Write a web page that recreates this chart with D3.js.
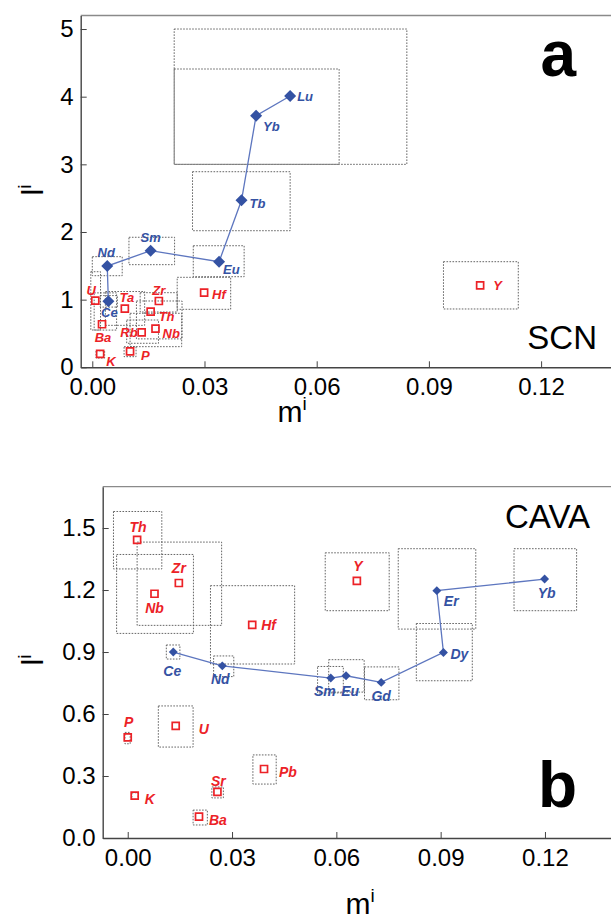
<!DOCTYPE html>
<html>
<head>
<meta charset="utf-8">
<script src="https://cdn.jsdelivr.net/npm/d3@7"></script>
<style>
  html, body { margin: 0; padding: 0; background: #fff; }
  svg { display: block; }
</style>
</head>
<body>
<svg id="chart" width="611" height="916"></svg>
<script>
// ---------- Panel a (SCN) ----------
const aReeNames = ["Ce", "Nd", "Sm", "Eu", "Tb", "Yb", "Lu"];
const aReeM     = [0.0043, 0.0040, 0.0156, 0.0339, 0.0399, 0.0438, 0.0529];
const aReeL     = [0.976, 1.497, 1.724, 1.561, 2.468, 3.719, 4.010];
const aReeMLo   = [0.0021, 0.0000, 0.0098, 0.0270, 0.0268, 0.0219, 0.0219];
const aReeMHi   = [0.0067, 0.0080, 0.0220, 0.0406, 0.0529, 0.0660, 0.0841];
const aReeLLo   = [0.890, 1.354, 1.517, 1.339, 2.019, 3.000, 3.000];
const aReeLHi   = [1.060, 1.635, 1.922, 1.797, 2.891, 4.409, 5.000];

const aOthNames = ["U", "Ba", "Ta", "Zr", "Th", "Nb", "Rb", "P", "K", "Hf", "Y"];
const aOthM     = [0.0008, 0.0026, 0.0087, 0.0178, 0.0156, 0.0169, 0.0132, 0.0101, 0.0021, 0.0299, 0.1037];
const aOthL     = [0.985, 0.636, 0.866, 0.980, 0.822, 0.571, 0.517, 0.236, 0.197, 1.103, 1.212];
const aOthMLo   = [-0.0004, 0.0005, 0.0035, 0.0128, 0.0118, 0.0101, 0.0092, 0.0085, 0.0010, 0.0227, 0.0939];
const aOthMHi   = [0.0022, 0.0065, 0.0140, 0.0227, 0.0240, 0.0239, 0.0177, 0.0117, 0.0033, 0.0370, 0.1139];
const aOthLLo   = [0.551, 0.550, 0.620, 0.817, 0.420, 0.305, 0.355, 0.157, 0.137, 0.857, 0.862];
const aOthLHi   = [1.413, 1.100, 1.120, 1.103, 0.980, 0.798, 0.699, 0.305, 0.245, 1.330, 1.561];

const aXTicks = [0, 0.03, 0.06, 0.09, 0.12];
const aYTicks = [0, 1, 2, 3, 4, 5];

// ---------- Panel b (CAVA) ----------
const bReeNames = ["Ce", "Nd", "Sm", "Eu", "Gd", "Dy", "Er", "Yb"];
const bReeM     = [0.0131, 0.0272, 0.0584, 0.0628, 0.0729, 0.0908, 0.0889, 0.1199];
const bReeL     = [0.900, 0.833, 0.774, 0.785, 0.753, 0.898, 1.197, 1.253];
const bReeMLo   = [0.0111, 0.0247, 0.0546, 0.0578, 0.0681, 0.0830, 0.0778, 0.1111];
const bReeMHi   = [0.0150, 0.0305, 0.0620, 0.0680, 0.0780, 0.0991, 0.1001, 0.1291];
const bReeLLo   = [0.866, 0.781, 0.702, 0.706, 0.669, 0.761, 1.011, 1.100];
const bReeLHi   = [0.934, 0.881, 0.830, 0.863, 0.828, 1.038, 1.400, 1.400];

const bOthNames = ["Th", "Zr", "Nb", "Hf", "Y", "P", "U", "K", "Sr", "Ba", "Pb"];
const bOthM     = [0.0027, 0.0147, 0.0077, 0.0358, 0.0659, 0.0000, 0.0138, 0.0020, 0.0258, 0.0205, 0.0392];
const bOthL     = [1.443, 1.234, 1.182, 1.031, 1.244, 0.487, 0.543, 0.205, 0.223, 0.103, 0.334];
const bOthMLo   = [-0.0041, 0.0027, -0.0032, 0.0238, 0.0568, -0.0008, 0.0088, 0.0012, 0.0242, 0.0188, 0.0360];
const bOthMHi   = [0.0098, 0.0270, 0.0189, 0.0480, 0.0752, 0.0007, 0.0188, 0.0030, 0.0275, 0.0229, 0.0427];
const bOthLLo   = [1.302, 1.029, 0.990, 0.842, 1.100, 0.456, 0.440, 0.187, 0.194, 0.063, 0.261];
const bOthLHi   = [1.580, 1.432, 1.372, 1.221, 1.380, 0.511, 0.639, 0.219, 0.247, 0.135, 0.402];

const bXTicks = [0, 0.03, 0.06, 0.09, 0.12];
const bYTicks = [0, 0.3, 0.6, 0.9, 1.2, 1.5];

// Label placement: [dx, dy, anchor] relative to the marker centre
const aLabelPos = {
  Lu: [7, 5, "start"], Yb: [7, 15, "start"], Tb: [8, 8, "start"], Eu: [4, 12, "start"],
  Sm: [0, -9, "middle"], Nd: [-1, -9, "middle"], Ce: [1, 16, "middle"],
  U: [-4, -6, "middle"], Ta: [2, -7, "middle"], Zr: [0, -6, "middle"], Th: [8, 9, "start"],
  Nb: [7, 9, "start"], Rb: [-4, 5, "end"], Ba: [1, 18, "middle"], K: [6, 12, "start"],
  P: [11, 9, "start"], Hf: [8, 6, "start"], Y: [13, 5, "start"]
};
const bLabelPos = {
  Ce: [-1, 24, "middle"], Nd: [-2, 18, "middle"], Sm: [-6, 18, "middle"], Eu: [4, 20, "middle"],
  Gd: [0, 19, "middle"], Dy: [7, 7, "start"], Er: [7, 15, "start"], Yb: [2, 19, "middle"],
  Th: [1, -8, "middle"], Zr: [0, -10, "middle"], Nb: [0, 19, "middle"], Hf: [9, 5, "start"],
  Y: [1, -10, "middle"], P: [1, -10, "middle"], U: [23, 8, "start"], K: [10, 8, "start"],
  Sr: [1, -6, "middle"], Ba: [10, 8, "start"], Pb: [15, 8, "start"]
};

const FONT = "'Liberation Sans', Arial, Helvetica, sans-serif";
const RED = "#ec2227";
const BLUE = "#3452a3";
const LINE_BLUE = "#5d76bf";
const svg = d3.select("#chart");

function zip(names, m, l, mlo, mhi, llo, lhi) {
  return names.map((n, i) => ({ name: n, m: m[i], l: l[i], mlo: mlo[i], mhi: mhi[i], llo: llo[i], lhi: lhi[i] }));
}

function drawPanel(cfg) {
  const g = svg.append("g");
  const x = d3.scaleLinear().domain(cfg.xDomain).range(cfg.xRange);
  const y = d3.scaleLinear().domain(cfg.yDomain).range(cfg.yRange);

  const ree = zip(...cfg.ree);
  const oth = zip(...cfg.oth);

  // top frame line
  g.append("line")
    .attr("x1", cfg.xRange[0]).attr("x2", 611)
    .attr("y1", y(cfg.yDomain[1])).attr("y2", y(cfg.yDomain[1]))
    .attr("stroke", "#8a8a8a").attr("stroke-width", 1.3);

  // uncertainty boxes
  const boxes = g.append("g")
    .attr("fill", "none").attr("stroke", "#555").attr("stroke-width", 0.9)
    .attr("stroke-dasharray", "1.6,1.4");
  boxes.selectAll("rect").data(oth.concat(ree)).join("rect")
    .attr("x", d => x(d.mlo)).attr("y", d => y(d.lhi))
    .attr("width", d => x(d.mhi) - x(d.mlo))
    .attr("height", d => y(d.llo) - y(d.lhi));

  // connecting line for the REE series
  g.append("path").datum(ree)
    .attr("fill", "none").attr("stroke", LINE_BLUE).attr("stroke-width", 1.3)
    .attr("d", d3.line().x(d => x(d.m)).y(d => y(d.l)));

  // open red squares
  g.selectAll(".sq").data(oth).join("path").attr("class", "sq")
    .attr("transform", d => `translate(${x(d.m)},${y(d.l)})`)
    .attr("d", d3.symbol(d3.symbolSquare, cfg.sqSize))
    .attr("fill", "#fff").attr("fill-opacity", 0).attr("stroke", RED).attr("stroke-width", 1.7);

  // blue diamonds
  g.selectAll(".dm").data(ree).join("path").attr("class", "dm")
    .attr("transform", d => `translate(${x(d.m)},${y(d.l)}) rotate(45)`)
    .attr("d", d3.symbol(d3.symbolSquare, cfg.dmSize))
    .attr("fill", BLUE);

  // element labels
  const lab = (data, color, pos) => g.selectAll(null).data(data).join("text")
    .attr("x", d => x(d.m) + pos[d.name][0])
    .attr("y", d => y(d.l) + pos[d.name][1])
    .attr("text-anchor", d => pos[d.name][2])
    .attr("font-family", FONT).attr("font-size", cfg.labelSize)
    .attr("font-weight", "bold").attr("font-style", "italic")
    .attr("fill", color)
    .text(d => d.name);
  lab(oth, RED, cfg.labelPos);
  lab(ree, BLUE, cfg.labelPos);

  // axes
  const xAxis = d3.axisBottom(x).tickValues(cfg.xTicks).tickFormat(d3.format(".2f"))
    .tickSizeInner(-6).tickSizeOuter(0).tickPadding(11);
  const yAxis = d3.axisLeft(y).tickValues(cfg.yTicks).tickFormat(cfg.yFormat)
    .tickSizeInner(-6).tickSizeOuter(0).tickPadding(7);

  const gx = g.append("g").attr("transform", `translate(0,${cfg.yRange[0]})`).call(xAxis);
  const gy = g.append("g").attr("transform", `translate(${cfg.xRange[0]},0)`).call(yAxis);
  [gx, gy].forEach(a => {
    a.selectAll("path.domain").attr("stroke", "#444").attr("stroke-width", 1.4);
    a.selectAll(".tick line").attr("stroke", "#444").attr("stroke-width", 1);
    a.selectAll("text").attr("font-family", FONT).attr("font-size", 24).attr("fill", "#000");
  });

  // axis titles
  const xt = g.append("text")
    .attr("x", cfg.xTitle[0]).attr("y", cfg.xTitle[1])
    .attr("text-anchor", "middle").attr("font-family", FONT).attr("font-size", 30).attr("fill", "#000");
  xt.append("tspan").text("m");
  xt.append("tspan").attr("dy", -12).attr("font-size", 19).text("i");

  const yt = g.append("text")
    .attr("transform", `translate(${cfg.yTitle[0]},${cfg.yTitle[1]}) rotate(-90)`)
    .attr("text-anchor", "middle").attr("font-family", FONT).attr("font-size", 30).attr("fill", "#000");
  yt.append("tspan").text("l");
  yt.append("tspan").attr("dy", -12).attr("font-size", 19).text("i");

  // panel name and letter
  g.append("text")
    .attr("x", cfg.name[0]).attr("y", cfg.name[1])
    .attr("text-anchor", "end").attr("font-family", FONT).attr("font-size", 33).attr("fill", "#000")
    .text(cfg.name[2]);
  g.append("text")
    .attr("x", cfg.letter[0]).attr("y", cfg.letter[1])
    .attr("text-anchor", "end").attr("font-family", FONT).attr("font-size", 64)
    .attr("font-weight", "bold").attr("fill", "#000")
    .text(cfg.letter[2]);
}

drawPanel({
  xDomain: [-0.0031, 0.14], xRange: [80.7, 615.9],
  yDomain: [0, 5.2], yRange: [367.3, 15.5],
  xTicks: aXTicks, yTicks: aYTicks, yFormat: d3.format("d"),
  ree: [aReeNames, aReeM, aReeL, aReeMLo, aReeMHi, aReeLLo, aReeLHi],
  oth: [aOthNames, aOthM, aOthL, aOthMLo, aOthMHi, aOthLLo, aOthLHi],
  labelPos: aLabelPos, labelSize: 13, sqSize: 49, dmSize: 72,
  xTitle: [292, 422], yTitle: [43, 190],
  name: [597, 349, "SCN"], letter: [576, 76, "a"]
});

drawPanel({
  xDomain: [-0.0072, 0.14], xRange: [102.7, 614.5],
  yDomain: [0, 1.7], yRange: [838, 486.7],
  xTicks: bXTicks, yTicks: bYTicks, yFormat: d3.format(".1f"),
  ree: [bReeNames, bReeM, bReeL, bReeMLo, bReeMHi, bReeLLo, bReeLHi],
  oth: [bOthNames, bOthM, bOthL, bOthMLo, bOthMHi, bOthLLo, bOthLHi],
  labelPos: bLabelPos, labelSize: 14, sqSize: 49, dmSize: 40,
  xTitle: [360, 914], yTitle: [43, 660],
  name: [590, 528, "CAVA"], letter: [577, 807, "b"]
});
</script>
</body>
</html>
